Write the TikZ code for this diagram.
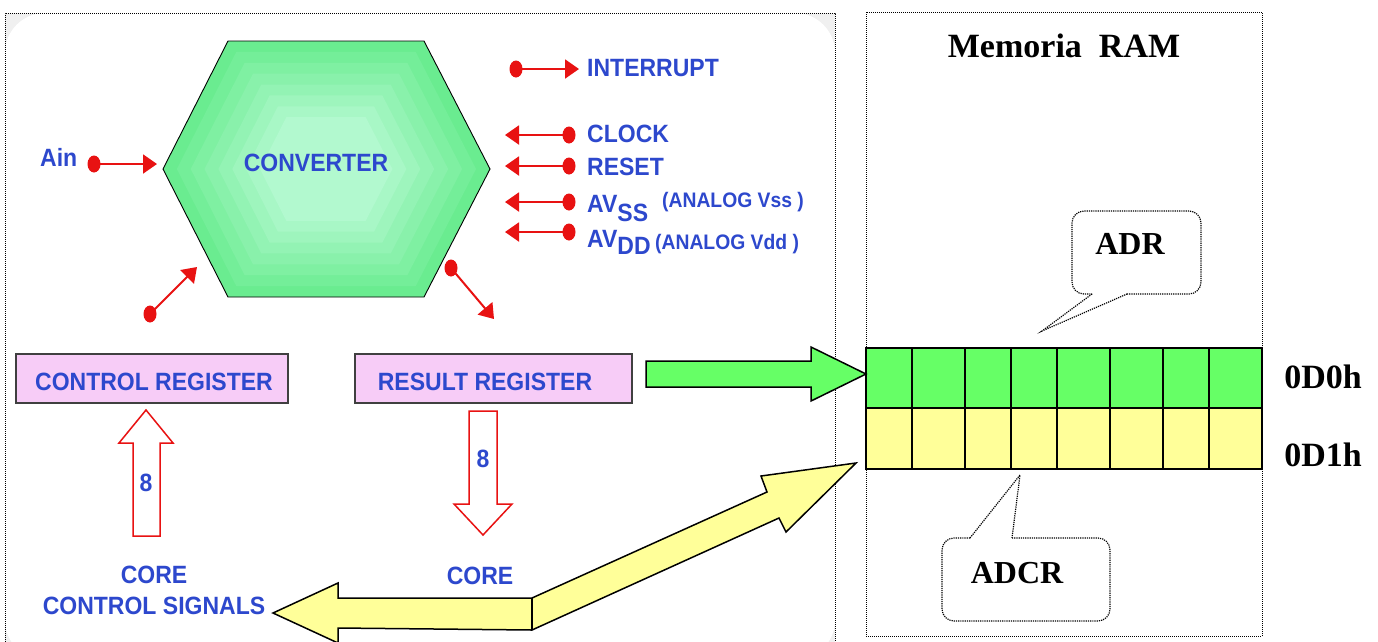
\documentclass[tikz,border=0pt]{standalone}
\usepackage{fontspec}
\setmainfont{Liberation Serif}
\newfontfamily\sigfont[FakeStretch=0.92]{Liberation Sans}
\usetikzlibrary{arrows.meta}
\definecolor{sigred}{RGB}{232,18,18}
\definecolor{txtblue}{RGB}{45,72,205}
\definecolor{hexOut}{RGB}{106,236,144}
\definecolor{hexIn}{RGB}{180,249,208}
\definecolor{regpink}{RGB}{247,204,247}
\definecolor{memgreen}{RGB}{102,255,102}
\definecolor{memyellow}{RGB}{255,255,153}
\begin{document}
\begin{tikzpicture}[x=1pt,y=-1pt,
  lbl/.style={text=txtblue,font=\sigfont\bfseries\fontsize{25}{25}\selectfont,inner sep=0pt},
  smalllbl/.style={text=txtblue,font=\sigfont\bfseries\fontsize{21}{21}\selectfont,inner sep=0pt},
  memlbl/.style={font=\bfseries\fontsize{34}{34}\selectfont,inner sep=0pt},
  pin/.style={sigred,line width=2pt,-{Triangle[length=14pt,width=19pt]}},
  pindot/.style={fill=sigred,draw=none},
  regbox/.style={fill=regpink,draw=black!75,line width=1.2pt,inner sep=0pt},
  hollow/.style={draw=sigred,fill=white,line width=1.5pt,line join=miter},
  bigarrow/.style={draw=black,line width=1.5pt,line join=miter},
  callout/.style={densely dotted,line width=1.2pt}]
\useasboundingbox (0,0) rectangle (1378,641);

% left panel: soft grey corners and dotted frame
\fill[gray!12] (5,13) rectangle (835,660);
\fill[white,rounded corners=40pt] (5,13) rectangle (835,660);
\draw[densely dotted,line width=1pt] (5,660) -- (5,13) -- (835,13) -- (835,660);

% converter hexagon with banded fill, lighter towards the middle
\foreach \k in {0,...,7}{
  \pgfmathsetmacro{\s}{1-0.085*\k}
  \pgfmathsetmacro{\m}{100-\k*14}
  \begin{scope}[shift={(326,169)},scale=\s]
    \fill[hexOut!\m!hexIn] (-98,-128) -- (98,-128) -- (164,0) -- (98,128) -- (-98,128) -- (-163,0) -- cycle;
  \end{scope}}
\draw[line width=0.9pt] (228,41) -- (424,41) -- (490,169) -- (424,297) -- (228,297) -- (163,169) -- cycle;
\node[lbl,anchor=base] (conv) at (316,171.5) {CONVERTER};

% signal pins
\coordinate (ainD) at (94,164);   \coordinate (ainT) at (157,164);
\coordinate (intD) at (516,69);   \coordinate (intT) at (579,69);
\coordinate (clkD) at (569,135);  \coordinate (clkT) at (505,135);
\coordinate (rstD) at (569,166);  \coordinate (rstT) at (505,166);
\coordinate (vssD) at (569,202);  \coordinate (vssT) at (505,202);
\coordinate (vddD) at (569,232);  \coordinate (vddT) at (505,232);
\coordinate (llD) at (150,314);   \coordinate (llT) at (197,267);
\coordinate (lrD) at (451,268);   \coordinate (lrT) at (494,319);
\foreach \p in {ain,int,clk,rst,vss,vdd,ll,lr}{
  \draw[pin] (\p D) -- (\p T);
  \fill[pindot] (\p D) ellipse [x radius=6.5pt,y radius=8.5pt];}

\node[lbl,anchor=base west] (ain) at (40,166) {Ain};
\node[lbl,anchor=base west] (intl) at (587,76) {INTERRUPT};
\node[lbl,anchor=base west] (clkl) at (587,142) {CLOCK};
\node[lbl,anchor=base west] (rstl) at (587,175) {RESET};
\node[lbl,anchor=base west] (vssl) at (587,212) {AV\raisebox{-9pt}{SS}};
\node[smalllbl,anchor=base west] (vssn) at (662,207.5) {(ANALOG Vss )};
\node[lbl,anchor=base west] (vddl) at (587,247) {AV\raisebox{-7pt}{DD}};
\node[smalllbl,anchor=base west] (vddn) at (655,249.5) {(ANALOG Vdd )};

% registers
\node[regbox,minimum width=272pt,minimum height=49pt] (ctrl) at (152,378.5) {};
\node[regbox,minimum width=277pt,minimum height=49pt] (res) at (493.5,378.5) {};
\node[lbl,anchor=base] (ctrlt) at (154,390) {CONTROL REGISTER};
\node[lbl,anchor=base] (rest) at (485,390) {RESULT REGISTER};

% 8-bit hollow arrows
\draw[hollow] (146,410) -- (173,443) -- (160,443) -- (160,536) -- (133,536) -- (133,443) -- (119,443) -- cycle;
\node[lbl,anchor=base] (eightA) at (146,491) {8};
\draw[hollow] (469,411) -- (497,411) -- (497,504) -- (512,504) -- (483,535) -- (454,504) -- (469,504) -- cycle;
\node[lbl,anchor=base] (eightB) at (483,467) {8};

\node[lbl,anchor=base] (core1) at (154,583) {CORE};
\node[lbl,anchor=base] (ccs) at (154,614) {CONTROL SIGNALS};
\node[lbl,anchor=base] (core2) at (480,584) {CORE};

% RAM block
\draw[densely dotted,line width=1pt] (866,12) rectangle (1262,636);
\node[memlbl,anchor=base] (title) at (1064,57) {Memoria~~RAM};
\fill[memgreen] (866,348) rectangle (1262,408);
\fill[memyellow] (866,408) rectangle (1262,469);
\foreach \x in {912,965,1011,1057,1110,1163,1209}
  \draw[line width=1.8pt] (\x,348) -- (\x,469);
\draw[line width=1.8pt] (866,348) rectangle (1262,469);
\draw[line width=1.8pt] (866,408) -- (1262,408);
\node[memlbl,anchor=base] (r0) at (1323,388) {0D0h};
\node[memlbl,anchor=base] (r1) at (1323,466) {0D1h};

% callouts
\draw[callout,rounded corners=12pt] (1127,294) -- (1201,294) -- (1201,211) -- (1072,211) -- (1072,294) -- (1092,294);
\draw[callout] (1092,294) -- (1042,331) -- (1127,294);
\node[memlbl,font=\bfseries\fontsize{32}{32}\selectfont,anchor=base] (adr) at (1130,254) {ADR};
\draw[callout,rounded corners=12pt] (1012,538) -- (1110,538) -- (1110,621) -- (942,621) -- (942,538) -- (970,538);
\draw[callout] (970,538) -- (1020,475) -- (1012,538);
\node[memlbl,font=\bfseries\fontsize{32}{32}\selectfont,anchor=base] (adcr) at (1017,583) {ADCR};

% data path arrows
\draw[bigarrow,fill=memgreen] (646,361) -- (811,361) -- (811,347) -- (866,374) -- (811,401) -- (811,387) -- (646,387) -- cycle;
\draw[bigarrow,fill=memyellow] (273,613) -- (338,583) -- (338,598) -- (532,598) -- (767,492) -- (761,476)
  -- (856,463) -- (786,532) -- (779,518) -- (532,630) -- (338,628) -- (338,643) -- cycle;
\draw[line width=1.5pt] (532,598) -- (532,630);
\end{tikzpicture}
\end{document}
